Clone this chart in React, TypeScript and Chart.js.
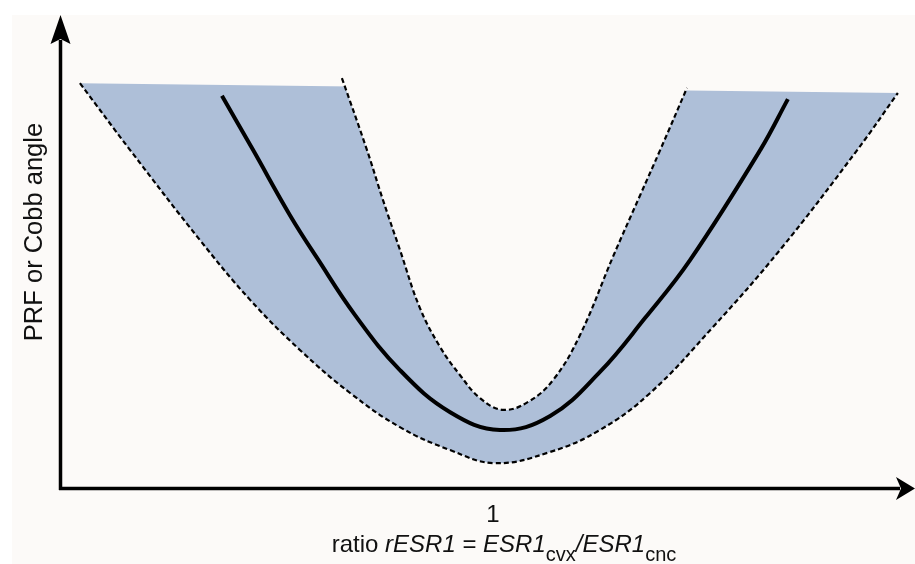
import React, { useEffect, useRef } from 'react';
import { Chart, registerables } from 'chart.js';

Chart.register(...registerables);

// Outer (lower) dashed bound of the band
const outerX = [0.046, 0.162, 0.323, 0.439, 0.554, 0.670, 0.785, 0.901, 1.005, 1.132, 1.247, 1.363, 1.508, 1.663, 1.841, 1.935];
const outerY = [86.5, 72.2, 53.0, 40.2, 29.5, 20.3, 13.0, 8.1, 5.3, 7.7, 12.4, 20.3, 34.4, 50.9, 72.2, 84.4];

// Inner (upper) dashed bound of the band
const innerX = [0.651, 0.709, 0.746, 0.785, 0.831, 0.878, 0.924, 0.970, 1.023, 1.081, 1.139, 1.201, 1.277, 1.339, 1.386, 1.448];
const innerY = [87.6, 72.2, 61.5, 50.9, 38.5, 30.1, 24.1, 19.2, 16.7, 18.4, 23.1, 32.7, 49.4, 62.4, 72.2, 85.5];

// Central solid curve
const meanX = [0.374, 0.446, 0.531, 0.594, 0.681, 0.785, 0.901, 1.016, 1.132, 1.247, 1.351, 1.455, 1.617, 1.681];
const meanY = [83.8, 72.2, 58.3, 49.1, 37.0, 25.2, 16.2, 12.4, 15.4, 24.8, 36.3, 48.7, 72.2, 83.1];

// Top edge of the shaded band
const topEdgeX = [0.046, 1.935];
const topEdgeY = [86.5, 84.4];

const xTickValues = [1];
const xTickLabels = ['1'];
const yTitle = 'PRF or Cobb angle';

const BAND = '#aebfd8';
const BG = '#fcfaf8';
const FONT = "'Liberation Sans', Arial, sans-serif";

const pts = (xs: number[], ys: number[]) => xs.map((x, i) => ({ x, y: ys[i] }));

const decorPlugin = {
  id: 'decor',
  beforeDraw(chart: any) {
    const { ctx, width, height } = chart;
    ctx.save();
    ctx.fillStyle = '#ffffff';
    ctx.fillRect(0, 0, width, height);
    ctx.fillStyle = BG;
    ctx.fillRect(12, 15, width - 12, height - 15);
    ctx.restore();
  },
  afterDatasetsDraw(chart: any) {
    const { ctx, chartArea } = chart;
    const xs = chart.scales.x;
    const left = chartArea.left + 0.5;
    const bottom = chartArea.bottom + 0.5;
    ctx.save();
    ctx.strokeStyle = '#000';
    ctx.fillStyle = '#000';
    ctx.lineWidth = 3.5;
    ctx.lineCap = 'butt';
    // y axis
    ctx.beginPath();
    ctx.moveTo(left, bottom + 1.5);
    ctx.lineTo(left, 40);
    ctx.stroke();
    // x axis
    ctx.beginPath();
    ctx.moveTo(left - 1.5, bottom);
    ctx.lineTo(900, bottom);
    ctx.stroke();
    // arrow heads
    ctx.beginPath();
    ctx.moveTo(left, 15);
    ctx.lineTo(left - 10, 44);
    ctx.lineTo(left, 39);
    ctx.lineTo(left + 10, 44);
    ctx.closePath();
    ctx.fill();
    ctx.beginPath();
    ctx.moveTo(915, bottom);
    ctx.lineTo(896, bottom - 11.5);
    ctx.lineTo(901, bottom);
    ctx.lineTo(896, bottom + 11.5);
    ctx.closePath();
    ctx.fill();

    // tick labels
    ctx.fillStyle = '#111';
    ctx.font = `24px ${FONT}`;
    ctx.textAlign = 'center';
    ctx.textBaseline = 'alphabetic';
    xTickValues.forEach((v, i) => {
      ctx.fillText(xTickLabels[i], xs.getPixelForValue(v), 522);
    });

    // y title
    ctx.save();
    ctx.translate(42, 232);
    ctx.rotate(-Math.PI / 2);
    ctx.textAlign = 'center';
    ctx.font = `25.5px ${FONT}`;
    ctx.fillText(yTitle, 0, 0);
    ctx.restore();

    // x title with italics and subscripts
    const parts = [
      { t: 'ratio ', it: false, size: 24, dy: 0 },
      { t: 'rESR1', it: true, size: 24, dy: 0 },
      { t: ' = ', it: false, size: 24, dy: 0 },
      { t: 'ESR1', it: true, size: 24, dy: 0 },
      { t: 'cvx', it: false, size: 20, dy: 9 },
      { t: '/ESR1', it: true, size: 24, dy: 0 },
      { t: 'cnc', it: false, size: 20, dy: 9 },
    ];
    const fontOf = (p: any) => `${p.it ? 'italic ' : ''}${p.size}px ${FONT}`;
    let total = 0;
    parts.forEach((p) => {
      ctx.font = fontOf(p);
      total += ctx.measureText(p.t).width;
    });
    let x = 504 - total / 2;
    ctx.textAlign = 'left';
    parts.forEach((p) => {
      ctx.font = fontOf(p);
      ctx.fillText(p.t, x, 552 + p.dy);
      x += ctx.measureText(p.t).width;
    });
    ctx.restore();
  },
};

export default function App() {
  const ref = useRef<HTMLCanvasElement>(null);
  useEffect(() => {
    if (!ref.current) return;
    const chart = new Chart(ref.current, {
      type: 'line',
      data: {
        datasets: [
          {
            label: 'top',
            data: pts(topEdgeX, topEdgeY),
            borderWidth: 0,
            borderColor: 'rgba(0,0,0,0)',
            pointRadius: 0,
            fill: false,
            order: 4,
          },
          {
            label: 'outer',
            data: pts(outerX, outerY),
            borderColor: '#000',
            borderWidth: 2.2,
            borderDash: [5, 3],
            pointRadius: 0,
            tension: 0.4,
            fill: { target: 0, above: BAND, below: BAND },
            order: 3,
          },
          {
            label: 'inner',
            data: pts(innerX, innerY),
            borderColor: '#000',
            borderWidth: 2.2,
            borderDash: [5, 3],
            pointRadius: 0,
            tension: 0.4,
            fill: { value: 92, above: BG, below: BG },
            order: 2,
          },
          {
            label: 'mean',
            data: pts(meanX, meanY),
            borderColor: '#000',
            borderWidth: 4,
            borderCapStyle: 'butt',
            pointRadius: 0,
            tension: 0.4,
            fill: false,
            order: 1,
          },
        ] as any,
      },
      options: {
        animation: false,
        responsive: false,
        devicePixelRatio: 1,
        events: [],
        layout: { padding: { left: 60, right: 6, top: 20, bottom: 76 } },
        scales: {
          x: { type: 'linear', min: 0, max: 1.9607, display: false },
          y: { type: 'linear', min: 0, max: 100, display: false },
        },
        plugins: {
          legend: { display: false },
          tooltip: { enabled: false },
        },
      },
      plugins: [decorPlugin],
    });
    return () => chart.destroy();
  }, []);
  return (
    <div style={{ position: 'fixed', left: 0, top: 0, width: 915, height: 564, background: '#fff' }}>
      <canvas ref={ref} width={915} height={564} style={{ display: 'block' }} />
    </div>
  );
}
